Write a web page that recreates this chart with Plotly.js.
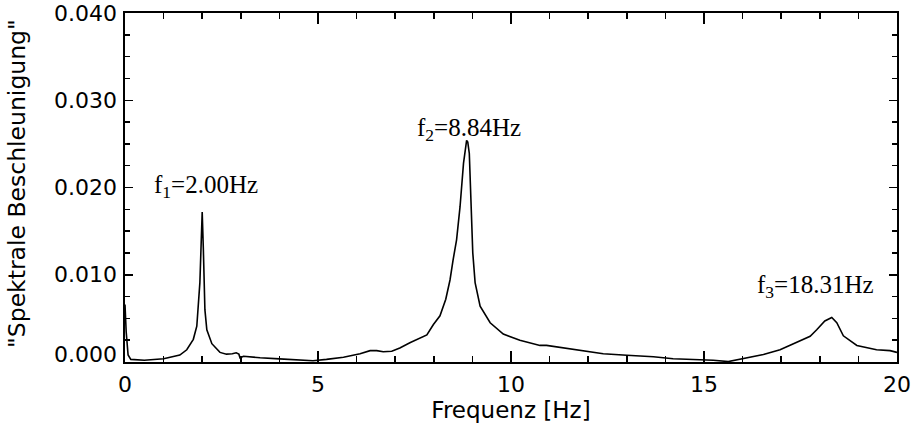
<!DOCTYPE html>
<html>
<head>
<meta charset="utf-8">
<script src="https://cdn.plot.ly/plotly-3.0.1.min.js"></script>
<style>html,body{margin:0;padding:0;background:#fff;}#chart{width:914px;height:424px;}</style>
</head>
<body>
<div id="chart"></div>
<script>
// Frequency [Hz]
const freq = [0, 0.03, 0.08, 0.15, 0.5, 1.0, 1.42, 1.6, 1.77, 1.86, 1.94, 1.98, 2.0, 2.03, 2.07, 2.12, 2.25, 2.46, 2.63, 2.78, 2.88, 2.95, 2.98, 3.07, 3.5, 4.0, 4.53, 4.87, 5.22, 5.66, 6.09, 6.35, 6.52, 6.69, 6.91, 7.12, 7.38, 7.6, 7.82, 7.99, 8.16, 8.31, 8.42, 8.5, 8.59, 8.68, 8.77, 8.85, 8.88, 8.92, 8.96, 9.01, 9.07, 9.15, 9.2, 9.46, 9.8, 10.23, 10.75, 10.92, 11.44, 11.96, 12.39, 13.0, 13.69, 14.2, 14.98, 15.24, 15.63, 16.02, 16.54, 16.97, 17.31, 17.57, 17.75, 17.92, 18.13, 18.31, 18.44, 18.61, 18.96, 19.47, 19.82, 20.0];
// Spectral acceleration
const accel = [0.0066, 0.0035, 0.0008, 0.0003, 0.0002, 0.00037, 0.0008, 0.0014, 0.0026, 0.0041, 0.0091, 0.0167, 0.0172, 0.0129, 0.006, 0.0037, 0.0021, 0.0011, 0.0009, 0.00095, 0.00105, 0.0009, 0.00048, 0.00066, 0.00048, 0.00036, 0.0002, 0.00014, 0.0003, 0.00055, 0.00094, 0.0013, 0.0013, 0.00117, 0.00124, 0.0016, 0.0022, 0.00265, 0.0031, 0.0043, 0.0053, 0.0072, 0.0094, 0.0117, 0.014, 0.0178, 0.0228, 0.0254, 0.0252, 0.0239, 0.0182, 0.0125, 0.0091, 0.0072, 0.0064, 0.0045, 0.0032, 0.0025, 0.0019, 0.0019, 0.00155, 0.00117, 0.00094, 0.00078, 0.0006, 0.00037, 0.0003, 0.0002, 0.00005, 0.0004, 0.00086, 0.0014, 0.0021, 0.00265, 0.00295, 0.0037, 0.0047, 0.0051, 0.0045, 0.003, 0.0019, 0.0014, 0.0013, 0.0011];
const xTickVals = [0, 5, 10, 15, 20];
const yTickVals = [0, 0.01, 0.02, 0.03, 0.04];
const yTickText = ["0.000", "0.010", "0.020", "0.030", "0.040"];
const peakLabels = ["f<sub>1</sub>=2.00Hz", "f<sub>2</sub>=8.84Hz", "f<sub>3</sub>=18.31Hz"];
const peakX = [2.1, 8.91, 17.9];
const peakY = [0.0201, 0.0266, 0.0086];

const sansFont = 'DejaVu Sans, Arial, sans-serif';
const trace = {
  x: freq, y: accel, type: 'scatter', mode: 'lines',
  line: {color: '#000', width: 1.6}, hoverinfo: 'skip'
};
const annotations = peakLabels.map((t, i) => ({
  text: t, x: peakX[i], y: peakY[i], xref: 'x', yref: 'y',
  showarrow: false, xanchor: 'center', yanchor: 'middle',
  font: {family: 'Liberation Serif, Times New Roman, serif', size: 25, color: '#000'}
}));
// y tick labels (bottom one sits slightly raised as in the reference)
yTickVals.forEach((v, i) => {
  annotations.push({
    text: yTickText[i], x: 0, y: v, xref: 'paper', yref: 'y',
    showarrow: false, xanchor: 'right', yanchor: 'middle',
    xshift: -6, yshift: i === 0 ? 8 : 0,
    font: {family: sansFont, size: 22, color: '#000'}
  });
});
// y axis title
annotations.push({
  text: '"Spektrale Beschleunigung"', x: (17 - 125) / 772, y: 0.51, xref: 'paper', yref: 'paper',
  showarrow: false, textangle: -90, xanchor: 'center', yanchor: 'middle',
  font: {family: sansFont, size: 23.5, color: '#000'}
});
const axisCommon = {
  showgrid: false, zeroline: false, showline: true, linecolor: '#000', linewidth: 1.6,
  mirror: 'ticks', ticks: 'inside', tickcolor: '#000', tickwidth: 1.5,
  tickfont: {family: sansFont, size: 22, color: '#000'}
};
const layout = {
  width: 914, height: 424,
  margin: {l: 125, r: 17, t: 13, b: 62},
  paper_bgcolor: '#fff', plot_bgcolor: '#fff',
  showlegend: false,
  xaxis: Object.assign({}, axisCommon, {
    range: [0, 20], tickvals: xTickVals, ticklen: 11, ticklabelstandoff: 2,
    minor: {dtick: 1, ticks: 'inside', ticklen: 6, tickcolor: '#000', tickwidth: 1.5},
    title: {text: 'Frequenz [Hz]', standoff: 0, font: {family: sansFont, size: 23, color: '#000'}}
  }),
  yaxis: Object.assign({}, axisCommon, {
    range: [0, 0.04], tickvals: yTickVals, showticklabels: false, ticklen: 8,
    minor: {dtick: 0.0025, ticks: 'inside', ticklen: 5, tickcolor: '#000', tickwidth: 1.5}
  }),
  annotations: annotations
};
Plotly.newPlot('chart', [trace], layout, {staticPlot: true, displayModeBar: false});
</script>
</body>
</html>
